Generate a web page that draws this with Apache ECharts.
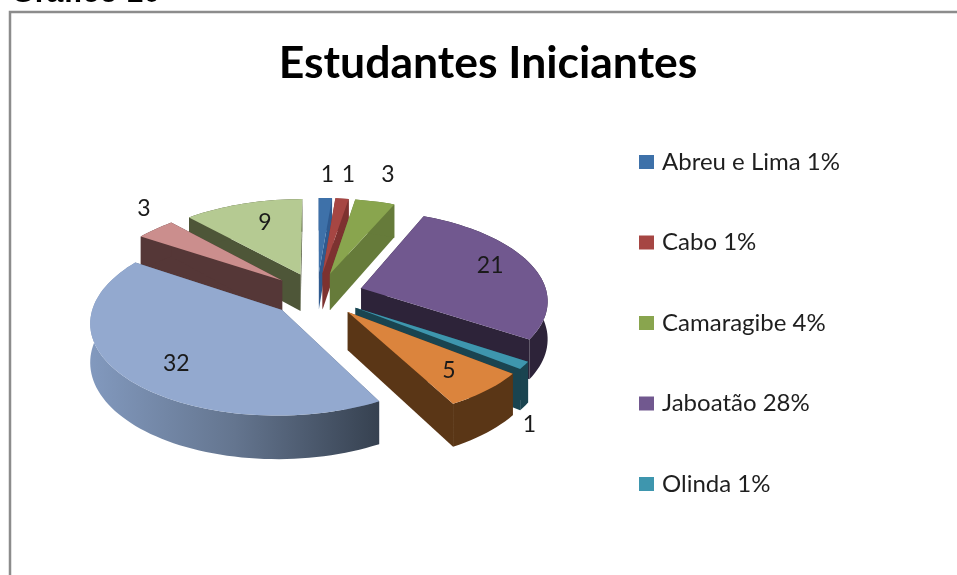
<!DOCTYPE html>
<html>
<head>
<meta charset="utf-8">
<script src="https://cdn.jsdelivr.net/npm/echarts@6/dist/echarts.min.js"></script>
<style>
  html, body { margin: 0; padding: 0; background: #fff; overflow: hidden; }
  #main { width: 957px; height: 575px; }
</style>
</head>
<body>
<div id="main"></div>
<script>
// the last four names are cut off in the picture, only the first five show in the legend
var categories = ['Abreu e Lima', 'Cabo', 'Camaragibe', 'Jaboatão', 'Olinda', 'Item 6', 'Item 7', 'Item 8', 'Item 9'];
var values = [1, 1, 3, 21, 1, 5, 32, 3, 9];
var legendNames = ['Abreu e Lima', 'Cabo', 'Camaragibe', 'Jaboatão', 'Olinda'];

var topColors = ['#3E71A9', '#A64643', '#89A54E', '#71588F', '#3E96AE', '#DB843D', '#93A9CF', '#CB8E8D', '#B5CA92'];
var wallColors = ['#2F5A8F', '#7D3230', '#667B3A', '#2D2339', '#1A4450', '#5A3616', '#5A6A85', '#553737', '#4E5638'];

// label placement: distance from the slice tip (1 = radius), and turn from the middle angle
var labelDist = [1.37, 1.38, 1.43, 0.78, 1.34, 0.76, 0.74, 1.27, 0.70];
var labelTurn = [0, 0, -1, -4, 19.5, 1, -4, 7, 3];

var total = values.reduce(function (a, b) { return a + b; }, 0);

// fake 3d projection
var cx = 317, cy = 294.6, rx = 186, ry = 88.9, depth = 37.5;
var explode = 0.25, persp = 0.12;

function project(u, v, h) {
  var s = 1 / (1 - persp * v);
  return [cx + rx * u * s, cy + ry * v * s + h * depth * s];
}

var cum = 0;
var slices = values.map(function (v, i) {
  var a0 = cum / total * 360;
  cum += v;
  var a1 = cum / total * 360;
  return { a0: a0, a1: a1, mid: (a0 + a1) / 2, index: i };
});

function dir(deg) {
  var r = deg * Math.PI / 180;
  return [Math.sin(r), -Math.cos(r)];
}

function renderSlice(idx) {
  return function () {
    var sl = slices[idx];
    var m = dir(sl.mid);
    var tipU = explode * m[0], tipV = explode * m[1];
    var arc = [];
    var steps = Math.max(2, Math.ceil((sl.a1 - sl.a0) / 2));
    for (var k = 0; k <= steps; k++) {
      var d = dir(sl.a0 + (sl.a1 - sl.a0) * k / steps);
      arc.push([tipU + d[0], tipV + d[1]]);
    }
    var topArc = arc.map(function (p) { return project(p[0], p[1], 0); });
    var lowArc = arc.map(function (p) { return project(p[0], p[1], 1); });
    var tipTop = project(tipU, tipV, 0);
    var tipLow = project(tipU, tipV, 1);
    var wall = wallColors[idx];
    var outerFill = wall;
    if (idx === 6) {
      outerFill = {
        type: 'linear', x: 0, y: 0, x2: 1, y2: 0,
        colorStops: [
          { offset: 0, color: '#8299BE' },
          { offset: 0.5, color: '#64758F' },
          { offset: 1, color: '#364150' }
        ]
      };
    }
    var poly = function (points, fill) {
      return { type: 'polygon', shape: { points: points }, style: { fill: fill, stroke: 'none' } };
    };
    var ld = dir(sl.mid + labelTurn[idx]);
    var lp = project(tipU + ld[0] * labelDist[idx], tipV + ld[1] * labelDist[idx], 0);
    return {
      type: 'group',
      children: [
        poly([tipTop, topArc[0], lowArc[0], tipLow], wall),
        poly([tipTop, topArc[steps], lowArc[steps], tipLow], wall),
        poly(topArc.concat(lowArc.slice().reverse()), outerFill),
        poly([tipTop].concat(topArc), topColors[idx]),
        {
          type: 'text',
          style: {
            text: String(values[idx]),
            x: lp[0],
            y: lp[1],
            fill: '#1a1a1a',
            font: '23px Lato',
            align: 'center',
            verticalAlign: 'middle'
          }
        }
      ]
    };
  };
}

// back slices first
var order = slices.slice().sort(function (a, b) {
  return -Math.cos(a.mid * Math.PI / 180) + Math.cos(b.mid * Math.PI / 180);
});

var series = categories.map(function (name, i) {
  return {
    name: name,
    type: 'custom',
    coordinateSystem: 'none',
    z: 2 + order.indexOf(slices[i]),
    silent: true,
    itemStyle: { color: topColors[i] },
    renderItem: renderSlice(i),
    data: [[values[i]]]
  };
});

var option = {
  animation: false,
  backgroundColor: '#fff',
  title: {
    text: 'Estudantes Iniciantes',
    left: 483,
    top: 36,
    textAlign: 'center',
    textStyle: { fontFamily: 'Lato', fontWeight: 'bold', fontSize: 44.5, color: '#000' }
  },
  legend: {
    data: legendNames,
    orient: 'vertical',
    left: 634,
    top: 143,
    icon: 'rect',
    itemWidth: 15,
    itemHeight: 14,
    itemGap: 52.5,
    selectedMode: false,
    formatter: function (name) {
      var v = values[categories.indexOf(name)];
      return name + ' ' + Math.round(v / total * 100) + '%';
    },
    textStyle: { fontFamily: 'Lato', fontSize: 24, color: '#1f1f1f', lineHeight: 28, padding: [0, 0, 0, 3] }
  },
  graphic: [
    {
      type: 'polyline',
      shape: { points: [[10, 575], [10, 12], [957, 12]] },
      style: { stroke: '#8C8C8C', lineWidth: 2.5, fill: 'none' }
    },
    {
      type: 'text',
      x: 11,
      y: 9,
      style: { text: 'Gráfico 10', font: 'bold 30.5px "Liberation Sans"', fill: '#000', verticalAlign: 'bottom' }
    }
  ],
  series: series
};

var myChart = echarts.init(document.getElementById('main'));
myChart.setOption(option);
</script>
</body>
</html>
